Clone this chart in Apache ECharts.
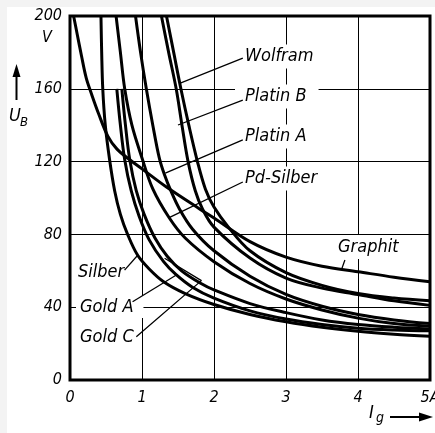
<!DOCTYPE html>
<html><head><meta charset="utf-8">
<script src="https://cdn.jsdelivr.net/npm/echarts@6/dist/echarts.min.js"></script>
<style>html,body{margin:0;padding:0;background:#fff;}#c{width:435px;height:433px;}</style>
</head><body><div id="c"></div>
<script>
// axis ticks
const xTicks = [0, 1, 2, 3, 4, 5];
const yTicks = [0, 40, 80, 120, 160, 200];
const xTickLabels = ['0', '1', '2', '3', '4', '5A'];
const yUnit = 'V';

// curves: [I_g (A), U_B (V)]
const wolfram  = [[1.34,200],[1.44,180],[1.54,160],[1.65,140],[1.77,120],[1.88,105],[2.0,95],[2.2,84],[2.5,71],[3.0,59],[3.5,52],[4.0,47.5],[4.5,45],[5.0,43.5]];
const platinB  = [[1.27,200],[1.37,180],[1.475,160],[1.555,140],[1.64,120],[1.74,104],[1.84,94],[2.0,84],[2.5,67],[3.0,56],[3.5,50.5],[4.0,47],[4.5,43.5],[5.0,41]];
const platinA  = [[0.91,200],[0.98,180],[1.06,160],[1.15,140],[1.24,122],[1.31,113],[1.4,104],[1.52,94],[1.7,83],[2.0,71],[2.5,57],[3.0,47],[3.5,40.5],[4.0,36],[4.5,33],[5.0,31]];
const pdSilber = [[0.64,200],[0.7,180],[0.76,160],[0.86,140],[1.0,122],[1.15,105],[1.38,89],[1.6,78],[2.0,65],[2.5,53],[3.0,44.5],[3.5,38.5],[4.0,34],[4.5,31],[5.0,29.5]];
const graphit  = [[0.05,200],[0.1,190],[0.16,178],[0.225,166],[0.3,157],[0.4,146],[0.525,134],[0.65,127],[0.83,121],[1.0,116],[1.34,106],[1.8,94],[2.0,89],[2.5,76],[3.0,67.5],[3.5,62.5],[4.0,59.5],[4.5,56.5],[5.0,54]];
const silber   = [[0.43,200],[0.44,180],[0.455,160],[0.49,140],[0.55,121],[0.62,104],[0.7,91],[0.8,80],[0.94,68.5],[1.1,61],[1.3,54],[1.6,47.5],[2.0,41.5],[2.5,36],[3.0,32],[3.5,29],[4.0,26.8],[4.5,25.2],[5.0,24]];
const goldA    = [[0.65,160],[0.7,140],[0.76,121],[0.85,104],[0.96,90],[1.1,77],[1.3,65],[1.47,58],[1.7,51],[2.0,45],[2.5,38],[3.0,33.5],[3.5,30.5],[4.0,28.5],[4.5,27.5],[5.0,27]];
const goldC    = [[0.72,160],[0.77,140],[0.83,121],[0.92,104],[1.03,91],[1.18,78],[1.35,68],[1.55,60],[1.82,53],[2.0,49.5],[2.5,42],[3.0,37],[3.5,33],[4.0,30.5],[4.5,29],[5.0,28]];

// label names and leader lines (data coords)
const labelNames = ['Wolfram', 'Platin B', 'Platin A', 'Pd-Silber', 'Graphit', 'Silber', 'Gold A', 'Gold C'];
const leaderWolfram  = [[2.40,176.9],[1.523,163.0]];
const leaderPlatinB  = [[2.40,153.8],[1.50,140.1]];
const leaderPlatinA  = [[2.40,131.9],[1.324,113.7]];
const leaderPdSilber = [[2.40,108.8],[1.384,89.4]];
const leaderGraphit  = [[3.818,65.9],[3.772,60.8]];
const leaderSilber   = [[0.758,60.4],[0.943,68.7]];
const leaderGoldA    = [[0.869,43.0],[1.477,57.7]];
const leaderGoldC    = [[0.921,23.8],[1.825,54.6],[1.314,66.9]];

const FONT = "'DejaVu Sans Condensed','Liberation Sans Narrow','DejaVu Sans',sans-serif";
const chart = echarts.init(document.getElementById('c'), null, {renderer: 'canvas'});

const curves = [wolfram, platinB, platinA, pdSilber, graphit, silber, goldA, goldC];
const leaders = [leaderWolfram, leaderPlatinB, leaderPlatinA, leaderPdSilber, leaderGraphit, leaderSilber, leaderGoldA, leaderGoldC];

const series = [];
curves.forEach((d, i) => series.push({
  name: labelNames[i], type: 'line', data: d, showSymbol: false, smooth: 0.35,
  lineStyle: {color: '#000', width: 3}, z: 4, silent: true, animation: false
}));
leaders.forEach((d) => series.push({
  type: 'line', data: d, showSymbol: false, smooth: false,
  lineStyle: {color: '#000', width: 1.3}, z: 5, silent: true, animation: false
}));

// label placement (pixels)
const labelPos = [[245,59.5],[245,99.5],[245,139.5],[245,181.5],[338,250],[78,275],[80,310],[80,340]];
const labelPad = [[3,6,3,4],[3,12,3,10],[3,6,3,4],[3,6,3,4],[3,4,3,4],[2,4,2,4],[2,10,2,4],[2,4,2,4]];
const texts = labelNames.map((t, i) => ({
  type: 'text', z: 2, left: labelPos[i][0] - labelPad[i][3], top: labelPos[i][1] - 12 - labelPad[i][0],
  style: {text: t, font: 'italic 18px ' + FONT, fill: '#000', backgroundColor: '#fff', padding: labelPad[i]}
}));

const graphic = [
  {type: 'rect', z: 0, shape: {x: 0, y: 0, width: 435, height: 7}, style: {fill: '#f3f3f3'}},
  {type: 'rect', z: 0, shape: {x: 0, y: 0, width: 7, height: 433}, style: {fill: '#f3f3f3'}},
  ...texts,
  {type: 'text', z: 6, left: 42, top: 30, style: {text: yUnit, font: 'italic 16px ' + FONT, fill: '#000'}},
  // U_B axis title with arrow
  {type: 'line', z: 6, shape: {x1: 16.5, y1: 100, x2: 16.5, y2: 74}, style: {stroke: '#000', lineWidth: 2}},
  {type: 'polygon', z: 6, shape: {points: [[12.5,77],[20.5,77],[16.5,64]]}, style: {fill: '#000'}},
  {type: 'text', z: 6, left: 9, top: 107, style: {text: 'U', font: 'italic 18px ' + FONT, fill: '#000'}},
  {type: 'text', z: 6, left: 20, top: 116, style: {text: 'B', font: 'italic 13px ' + FONT, fill: '#000'}},
  // I_g axis title with arrow
  {type: 'text', z: 6, left: 369, top: 404, style: {text: 'I', font: 'italic 18px ' + FONT, fill: '#000'}},
  {type: 'text', z: 6, left: 376, top: 411, style: {text: 'g', font: 'italic 14px ' + FONT, fill: '#000'}},
  {type: 'line', z: 6, shape: {x1: 390, y1: 417, x2: 422, y2: 417}, style: {stroke: '#000', lineWidth: 2}},
  {type: 'polygon', z: 6, shape: {points: [[419,412.5],[419,421.5],[433,417]]}, style: {fill: '#000'}}
];

chart.setOption({
  animation: false,
  backgroundColor: '#fff',
  grid: {left: 70, right: 5, top: 16, bottom: 53, outerBoundsMode: 'none', containLabel: false, show: true, borderColor: '#000', borderWidth: 3, backgroundColor: 'transparent'},
  xAxis: {
    type: 'value', min: xTicks[0], max: xTicks[xTicks.length - 1], interval: 1,
    axisLine: {show: false}, axisTick: {show: false},
    splitLine: {show: true, lineStyle: {color: '#000', width: 1}},
    axisLabel: {formatter: v => xTickLabels[xTicks.indexOf(v)], fontStyle: 'italic', fontSize: 16, color: '#000', margin: 10, fontFamily: FONT}
  },
  yAxis: {
    type: 'value', min: yTicks[0], max: yTicks[yTicks.length - 1], interval: 40,
    axisLine: {show: false}, axisTick: {show: false},
    splitLine: {show: true, lineStyle: {color: '#000', width: 1}},
    axisLabel: {formatter: v => String(v), fontStyle: 'italic', fontSize: 16, color: '#000', margin: 8, fontFamily: FONT}
  },
  graphic: graphic,
  series: series
});
</script></body></html>
